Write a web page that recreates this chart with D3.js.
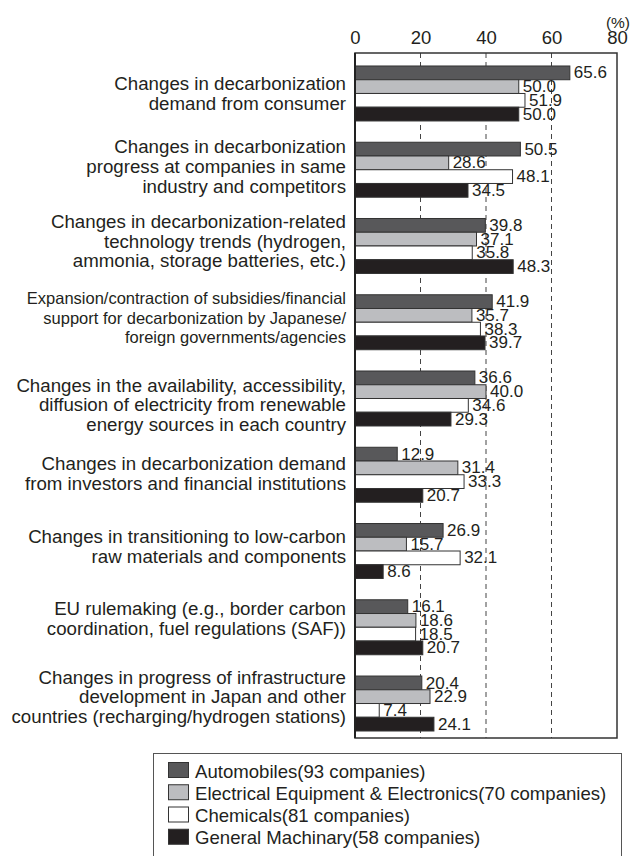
<!DOCTYPE html>
<html>
<head>
<meta charset="utf-8">
<script src="https://cdn.jsdelivr.net/npm/d3@7"></script>
<style>
html, body { margin: 0; padding: 0; background: #fff; }
svg { display: block; font-family: "Liberation Sans", Arial, Helvetica, sans-serif; }
</style>
</head>
<body>
<svg id="chart" width="644" height="856"></svg>
<script>
// ---------------- DATA ----------------
const categories = [
  ["Changes in decarbonization", "demand from consumer"],
  ["Changes in decarbonization", "progress at companies in same", "industry and competitors"],
  ["Changes in decarbonization-related", "technology trends (hydrogen,", "ammonia, storage batteries, etc.)"],
  ["Expansion/contraction of subsidies/financial", "support for decarbonization by Japanese/", "foreign governments/agencies"],
  ["Changes in the availability, accessibility,", "diffusion of electricity from renewable", "energy sources in each country"],
  ["Changes in decarbonization demand", "from investors and financial institutions"],
  ["Changes in transitioning to low-carbon", "raw materials and components"],
  ["EU rulemaking (e.g., border carbon", "coordination, fuel regulations (SAF))"],
  ["Changes in progress of infrastructure", "development in Japan and other", "countries (recharging/hydrogen stations)"]
];
const seriesNames = [
  "Automobiles(93 companies)",
  "Electrical Equipment & Electronics(70 companies)",
  "Chemicals(81 companies)",
  "General Machinary(58 companies)"
];
const automobiles = [65.6, 50.5, 39.8, 41.9, 36.6, 12.9, 26.9, 16.1, 20.4];
const electrical  = [50.0, 28.6, 37.1, 35.7, 40.0, 31.4, 15.7, 18.6, 22.9];
const chemicals   = [51.9, 48.1, 35.8, 38.3, 34.6, 33.3, 32.1, 18.5, 7.4];
const machinery   = [50.0, 34.5, 48.3, 39.7, 29.3, 20.7, 8.6, 20.7, 24.1];
const xTicks = [0, 20, 40, 60, 80];
const unitLabel = "(%)";

// ---------------- STYLE / LAYOUT ----------------
const seriesValues = [automobiles, electrical, chemicals, machinery];
const colors = ["#58585a", "#bcbdc0", "#ffffff", "#231f20"];
const ink = "#231f20";
const labelNudge = [0, -3.5, -5, -4.5, 6, -1.5, -5, -9, -7];

const svg = d3.select("#chart");
const plot = { left: 355, right: 617, top: 53, bottom: 738 };

const x = d3.scaleLinear().domain([0, 80]).range([plot.left, plot.right]);
const y = d3.scaleBand().domain(d3.range(categories.length))
  .range([plot.top, plot.bottom]).paddingInner(0.279).paddingOuter(0.131).align(0.65);
const ySub = d3.scaleBand().domain(d3.range(seriesNames.length)).range([0, y.bandwidth()]).padding(0);

// grid lines (dashed)
svg.append("g").selectAll("line").data(xTicks.filter(t => t > 0 && t < 80)).join("line")
  .attr("x1", d => x(d)).attr("x2", d => x(d))
  .attr("y1", plot.top).attr("y2", plot.bottom)
  .attr("stroke", "#444").attr("stroke-width", 1).attr("stroke-dasharray", "5,4");

// top axis labels
const xAxis = d3.axisTop(x).tickValues(xTicks).tickSize(0).tickPadding(0);
const ax = svg.append("g").attr("transform", `translate(0,${44})`).call(xAxis);
ax.select(".domain").remove();
ax.selectAll("text").attr("font-size", 18.5).attr("fill", ink).attr("dy", 0)
  .attr("font-family", "'Liberation Sans', Arial, sans-serif");

svg.append("text").attr("x", 630).attr("y", 28).attr("text-anchor", "end")
  .attr("font-size", 15.5).attr("fill", ink).text(unitLabel);

// bars
const groups = svg.append("g").selectAll("g").data(categories).join("g")
  .attr("transform", (d, i) => `translate(0,${y(i)})`);

groups.each(function (d, i) {
  const g = d3.select(this);
  const vals = seriesValues.map((s, k) => ({ k, v: s[i] }));
  g.selectAll("rect").data(vals).join("rect")
    .attr("x", x(0))
    .attr("y", v => ySub(v.k))
    .attr("width", v => x(v.v) - x(0))
    .attr("height", ySub.bandwidth())
    .attr("fill", v => colors[v.k])
    .attr("stroke", "#333").attr("stroke-width", 1);
  g.selectAll("text.val").data(vals).join("text")
    .attr("class", "val")
    .attr("x", v => x(v.v) + 4)
    .attr("y", v => ySub(v.k) + ySub.bandwidth() / 2)
    .attr("dy", "0.33em")
    .attr("font-size", 17).attr("fill", ink)
    .text(v => v.v.toFixed(1));
});

// plot frame
svg.append("rect").attr("x", plot.left).attr("y", plot.top)
  .attr("width", plot.right - plot.left).attr("height", plot.bottom - plot.top)
  .attr("fill", "none").attr("stroke", "#333").attr("stroke-width", 1.5);
svg.append("line").attr("x1", plot.left).attr("x2", plot.left)
  .attr("y1", plot.top).attr("y2", plot.bottom).attr("stroke", "#222").attr("stroke-width", 2);

// category labels
const lineH = 19.6;
categories.forEach((lines, i) => {
  const fs = i === 3 ? 16.5 : 18.7;
  const cy = y(i) + y.bandwidth() / 2 + labelNudge[i];
  const t = svg.append("text").attr("text-anchor", "end").attr("font-size", fs).attr("fill", ink);
  lines.forEach((ln, j) => {
    t.append("tspan").attr("x", 346)
      .attr("y", cy + (j - (lines.length - 1) / 2) * lineH)
      .attr("dy", "0.36em").text(ln);
  });
});

// legend
const lg = svg.append("g");
lg.append("rect").attr("x", 153.5).attr("y", 753.5).attr("width", 468).attr("height", 120)
  .attr("fill", "#fff").attr("stroke", "#555").attr("stroke-width", 1);
const rowY = d3.scaleBand().domain(d3.range(seriesNames.length)).range([762, 851]);
seriesNames.forEach((name, k) => {
  lg.append("rect").attr("x", 168.5).attr("y", rowY(k) + 0.5).attr("width", 20).attr("height", 15)
    .attr("fill", colors[k]).attr("stroke", "#333").attr("stroke-width", 1);
  lg.append("text").attr("x", 195).attr("y", rowY(k) + 15.5)
    .attr("font-size", 18.6).attr("fill", ink).text(name);
});
</script>
</body>
</html>
